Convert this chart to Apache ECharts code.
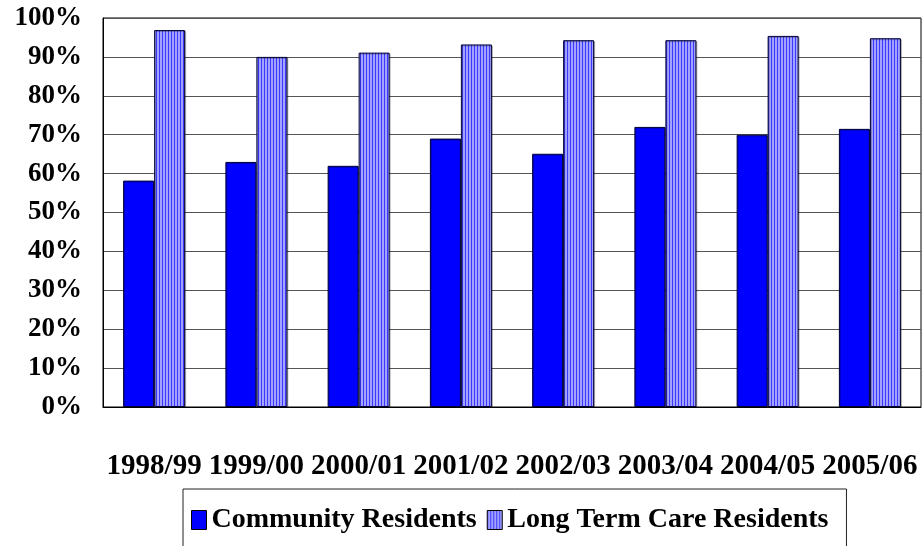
<!DOCTYPE html>
<html lang="en">

<head>
    <meta charset="UTF-8">
    <title>Residents chart</title>
    <style>
        html, body { margin: 0; padding: 0; background: #fff; }
        #main { width: 922px; height: 546px; }
    </style>
</head>

<body>
    <div id="main"></div>
</body>

<script src="https://cdn.jsdelivr.net/npm/echarts@6/dist/echarts.min.js"></script>
<script>
    // data (percent)
    var years = ['1998/99', '1999/00', '2000/01', '2001/02', '2002/03', '2003/04', '2004/05', '2005/06'];
    var community = [58.2, 63.0, 62.0, 69.0, 65.1, 72.0, 70.0, 71.5];
    var longTermCare = [96.9, 90.0, 91.1, 93.2, 94.3, 94.3, 95.4, 94.8];
    var yTicks = [0, 10, 20, 30, 40, 50, 60, 70, 80, 90, 100];

    var fontFam = "'Liberation Serif', 'Times New Roman', serif";

    // vertical stripe fill for the long term care bars
    var cv = document.createElement('canvas');
    cv.width = 3;
    cv.height = 4;
    var cx = cv.getContext('2d');
    cx.fillStyle = '#a3a3ff';
    cx.fillRect(0, 0, 3, 4);
    cx.fillStyle = '#3a3aff';
    cx.fillRect(0, 0, 1, 4);

    var myChart = echarts.init(document.getElementById('main'));
    myChart.setOption({
        animation: false,
        grid: {
            left: 103,
            right: 1,
            top: 18,
            bottom: 139,
            show: true,
            borderColor: '#000',
            borderWidth: 1
        },
        legend: {
            left: 183,
            top: 489,
            padding: [17, 18, 40, 8],
            borderColor: '#222',
            borderWidth: 1,
            icon: 'rect',
            itemWidth: 15,
            itemHeight: 19,
            itemGap: 10,
            itemStyle: { borderColor: '#000', borderWidth: 1, shadowBlur: 0 },
            textStyle: {
                fontFamily: fontFam,
                fontWeight: 'bold',
                fontSize: 28,
                color: '#000'
            },
            data: ['Community Residents', 'Long Term Care Residents']
        },
        xAxis: {
            type: 'category',
            data: years,
            axisLine: { lineStyle: { color: '#000', width: 1 } },
            axisTick: { show: false },
            axisLabel: {
                interval: 0,
                margin: 45,
                fontFamily: fontFam,
                fontWeight: 'bold',
                fontSize: 29,
                color: '#000'
            }
        },
        yAxis: {
            type: 'value',
            min: yTicks[0],
            max: yTicks[yTicks.length - 1],
            interval: 10,
            axisLine: { show: true, lineStyle: { color: '#000', width: 1 } },
            axisTick: { show: false },
            splitLine: { lineStyle: { color: '#555', width: 1 } },
            axisLabel: {
                margin: 21,
                formatter: '{value}%',
                fontFamily: fontFam,
                fontWeight: 'bold',
                fontSize: 27,
                color: '#000'
            }
        },
        series: [{
            name: 'Community Residents',
            type: 'bar',
            data: community,
            barWidth: 31,
            barGap: 0,
            itemStyle: {
                color: '#0000ff',
                borderColor: '#000033',
                borderWidth: 1,
                shadowColor: 'rgba(0,0,0,0.25)',
                shadowOffsetX: 1,
                shadowOffsetY: 1
            }
        }, {
            name: 'Long Term Care Residents',
            type: 'bar',
            data: longTermCare,
            barWidth: 31,
            barGap: 0,
            itemStyle: {
                color: { image: cv, repeat: 'repeat' },
                borderColor: '#000033',
                borderWidth: 1,
                shadowColor: 'rgba(0,0,0,0.25)',
                shadowOffsetX: 1,
                shadowOffsetY: 1
            }
        }]
    });
</script>

</html>
